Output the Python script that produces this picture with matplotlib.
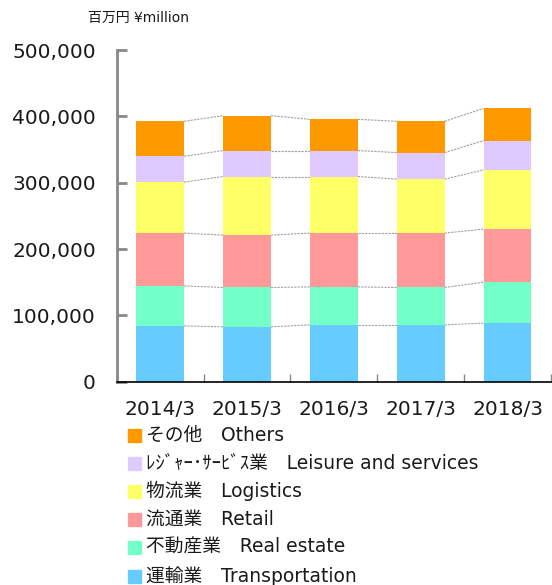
import matplotlib
matplotlib.use("Agg")
import matplotlib.pyplot as plt
import numpy as np
from matplotlib.patches import Rectangle

plt.rcParams['font.family'] = ['DejaVu Sans', 'Noto Sans CJK JP']

categories = ["2014/3", "2015/3", "2016/3", "2017/3", "2018/3"]
# values in ¥ million (bottom to top)
transportation = [84200, 82700, 85700, 85700, 88300]
real_estate = [60200, 59300, 57200, 56300, 61700]
retail = [79600, 79000, 81100, 82000, 80000]
logistics = [76800, 88300, 85300, 81300, 89400]
leisure = [39000, 39100, 39100, 40100, 44100]
others = [52700, 52600, 47100, 47100, 48500]

series = [transportation, real_estate, retail, logistics, leisure, others]
labels = ["運輸業\u3000Transportation", "不動産業\u3000Real estate", "流通業\u3000Retail",
          "物流業\u3000Logistics", "ﾚｼﾞｬｰ･ｻｰﾋﾞｽ業\u3000Leisure and services", "その他\u3000Others"]
colors = ["#66CCFF", "#73FFC8", "#FF9999", "#FFFF66", "#DFCAFF", "#FF9900"]
yticks = [0, 100000, 200000, 300000, 400000, 500000]

W, H = 552, 585
fig = plt.figure(figsize=(W / 100, H / 100), dpi=100)
ax = fig.add_axes([116.7 / W, 1 - 381.7 / H, (551 - 116.7) / W, (381.7 - 50) / H])

x = np.arange(len(categories))
bw = 0.55
bottom = np.zeros(len(categories))
for vals, c in zip(series, colors):
    v = np.array(vals, dtype=float)
    ax.bar(x, v, bw, bottom=bottom, color=c, edgecolor='none', zorder=2)
    top = bottom + v
    for i in range(len(x) - 1):
        ax.plot([x[i] + bw / 2, x[i + 1] - bw / 2], [top[i], top[i + 1]],
                color='#a0a0a0', lw=0.8, ls=(0, (2, 1)), zorder=1)
    bottom = top

ax.set_xlim(-0.5, len(categories) - 0.5)
ax.set_ylim(0, 500000)
ax.set_yticks(yticks)
ax.set_yticklabels([f"{t:,}" for t in yticks], fontsize=14.5, color='#1a1a1a')
ax.set_xticks(x)
ax.set_xticklabels(categories, fontsize=14.5, color='#1a1a1a')
ax.set_xticks(np.arange(-0.5, len(categories)), minor=True)
ax.tick_params(axis='x', which='major', length=0, pad=13)
ax.tick_params(axis='x', which='minor', length=6, direction='in', color='#888888', width=1)
ax.tick_params(axis='y', length=7, direction='in', color='#888888', width=2, pad=15)
for s in ['top', 'right']:
    ax.spines[s].set_visible(False)
ax.spines['left'].set_color('#888888')
ax.spines['left'].set_linewidth(2)
ax.spines['bottom'].set_color('black')
ax.spines['bottom'].set_linewidth(1.2)

fig.text(88 / W, 1 - 18 / H, "百万円 ¥million", fontsize=10, va='center', ha='left', color='#1a1a1a')

# legend (top to bottom: Others ... Transportation)
row_y = [435, 463, 491, 519, 547, 576]
for k, (lab, c) in enumerate(zip(labels[::-1], colors[::-1])):
    yc = row_y[k]
    fig.patches.append(Rectangle((128 / W, 1 - (yc + 6.5) / H), 13 / W, 13 / H,
                                 transform=fig.transFigure, color=c, figure=fig))
    fig.text(146 / W, 1 - yc / H, lab, fontsize=13.5, va='center', ha='left', color='#1a1a1a')

fig.savefig("out.png", dpi=100)
